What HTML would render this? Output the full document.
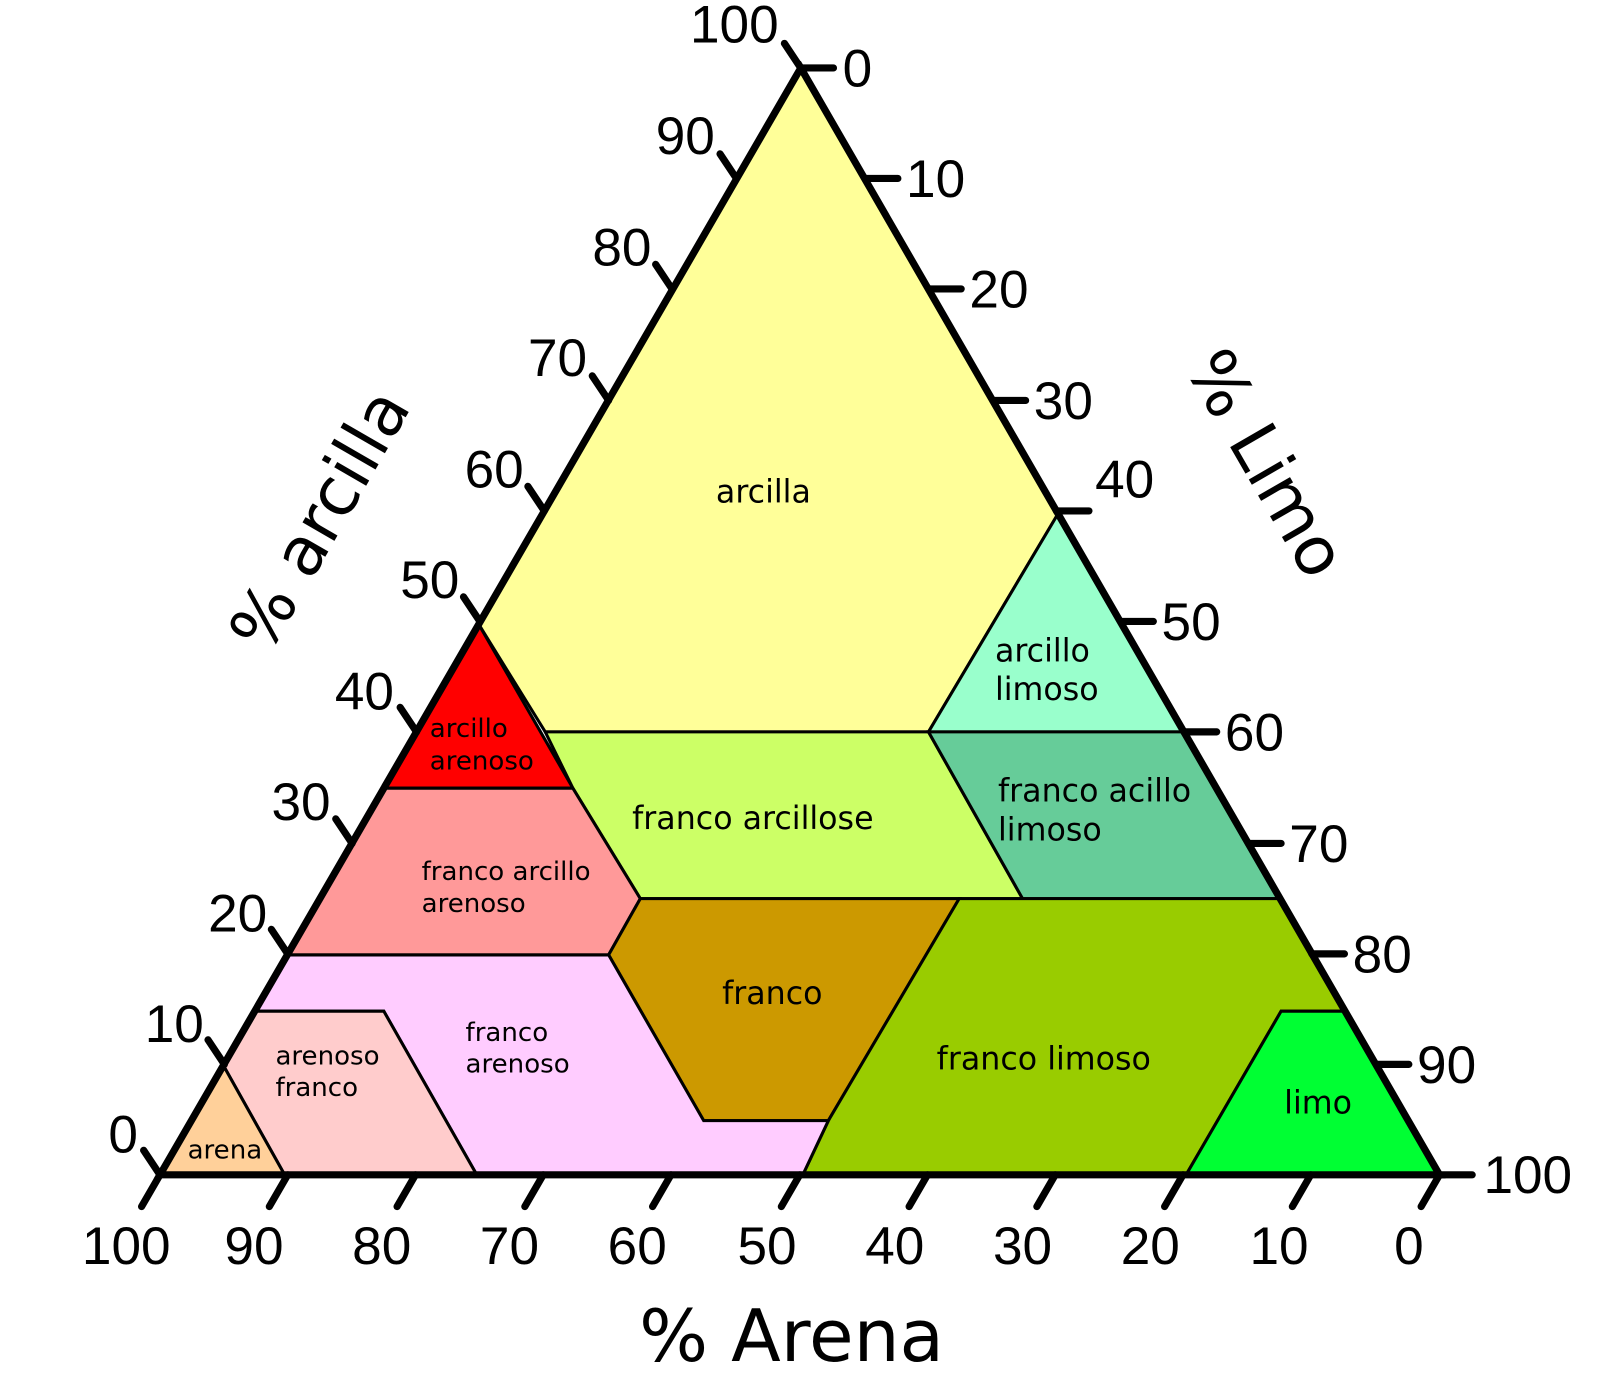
<!DOCTYPE html>
<html><head><meta charset="utf-8"><style>html,body{margin:0;padding:0;background:#fff}svg{display:block}</style></head>
<body>
<svg width="1600" height="1400" viewBox="0 0 1600 1400" xmlns="http://www.w3.org/2000/svg">
<g transform="translate(-1.5,-1.6) scale(1.022,1.023)">
<g stroke="#000" stroke-width="3" stroke-linejoin="miter">
<polygon fill="#ffff99" points="785,68 1036,505 910,717 535,717 470,612"/>
<polygon fill="#99ffcc" points="1036,505 1158,717 910,717"/>
<polygon fill="#ff0000" points="470,612 562,772 377,772"/>
<polygon fill="#ccff66" points="535,717 910,717 1002,880 628,880 562,772"/>
<polygon fill="#66cc99" points="910,717 1158,717 1252,880 1002,880"/>
<polygon fill="#ff9999" points="377,772 562,772 628,880 597,935 283,935"/>
<polygon fill="#cc9900" points="628,880 940,880 812,1097 690,1097 597,935"/>
<polygon fill="#99cc00" points="940,880 1252,880 1317,990 1255,990 1162,1150 787,1150 812,1097"/>
<polygon fill="#00ff33" points="1255,990 1317,990 1410,1150 1162,1150"/>
<polygon fill="#ffccff" points="283,935 597,935 690,1097 812,1097 787,1150 468,1150 377,990 251,990"/>
<polygon fill="#ffcccc" points="251,990 377,990 468,1150 280,1150 220,1043"/>
<polygon fill="#ffd09a" points="220,1043 280,1150 158,1150"/>
</g>
<polygon fill="none" stroke="#000" stroke-width="7" points="785,68 1410,1150 158,1150"/>
<g stroke="#000" stroke-width="7" stroke-linecap="round">
<path d="M158,1150 l-18,31 M283,1150 l-18,31 M408,1150 l-18,31 M533,1150 l-18,31 M658,1150 l-18,31 M784,1150 l-18,31 M909,1150 l-18,31 M1034,1150 l-18,31 M1159,1150 l-18,31 M1284,1150 l-18,31 M1410,1150 l-18,31"/>
<path d="M158,1150 l-16,-24 M221,1042 l-16,-24 M283,934 l-16,-24 M346,826 l-16,-24 M409,717 l-16,-24 M471,609 l-16,-24 M534,501 l-16,-24 M597,393 l-16,-24 M659,284 l-16,-24 M722,176 l-16,-24 M785,68 l-16,-24"/>
<path d="M785,68 h32 M848,176 h32 M910,284 h32 M973,393 h32 M1035,501 h32 M1098,609 h32 M1160,717 h32 M1223,826 h32 M1285,934 h32 M1348,1042 h32 M1410,1150 h32"/>
</g>
<g font-family="Liberation Sans, sans-serif" font-size="52" fill="#000" text-anchor="middle">
<text x="125" y="1237">100</text><text x="250" y="1237">90</text><text x="375" y="1237">80</text><text x="500" y="1237">70</text><text x="625" y="1237">60</text><text x="752" y="1237">50</text><text x="877" y="1237">40</text><text x="1002" y="1237">30</text><text x="1127" y="1237">20</text><text x="1253" y="1237">10</text><text x="1380" y="1237">0</text>
<text x="720" y="43">100</text><text x="672" y="152">90</text><text x="610" y="261">80</text><text x="547" y="369">70</text><text x="485" y="478">60</text><text x="422" y="586">50</text><text x="358" y="695">40</text><text x="296" y="803">30</text><text x="234" y="912">20</text><text x="172" y="1020">10</text><text x="122" y="1128">0</text>
</g>
<g font-family="Liberation Sans, sans-serif" font-size="52" fill="#000" text-anchor="start">
<text x="826" y="86">0</text><text x="888" y="194">10</text><text x="950" y="302">20</text><text x="1013" y="411">30</text><text x="1073" y="488">40</text><text x="1138" y="627">50</text><text x="1200" y="735">60</text><text x="1263" y="844">70</text><text x="1325" y="952">80</text><text x="1388" y="1060">90</text><text x="1453" y="1168">100</text>
</g>
<g font-family="DejaVu Sans, sans-serif" font-size="66" fill="#000" text-anchor="middle">
<text x="776" y="1332" font-size="71">% Arena</text>
<text transform="translate(315,510) rotate(-60)" x="0" y="22">% arcilla</text>
<text transform="translate(1240,455) rotate(60)" x="0" y="22">% Limo</text>
</g>
<g font-family="DejaVu Sans, sans-serif" font-size="31" fill="#000">
<text x="702" y="493">arcilla</text>
<text x="975" y="648">arcillo</text><text x="975" y="686">limoso</text>
<text x="620" y="812">franco arcillose</text>
<text x="978" y="785">franco acillo</text><text x="978" y="823">limoso</text>
<text x="708" y="983">franco</text>
<text x="918" y="1047">franco limoso</text>
<text x="1258" y="1090">limo</text>
</g>
<g font-family="DejaVu Sans, sans-serif" font-size="25.5" fill="#000">
<text x="422" y="722">arcillo</text><text x="422" y="754">arenoso</text>
<text x="414" y="862">franco arcillo</text><text x="414" y="893">arenoso</text>
<text x="457" y="1019">franco</text><text x="457" y="1050">arenoso</text>
<text x="271" y="1042">arenoso</text><text x="271" y="1073">franco</text>
<text x="185" y="1134">arena</text>
</g>
</g>
</svg>
</body></html>
